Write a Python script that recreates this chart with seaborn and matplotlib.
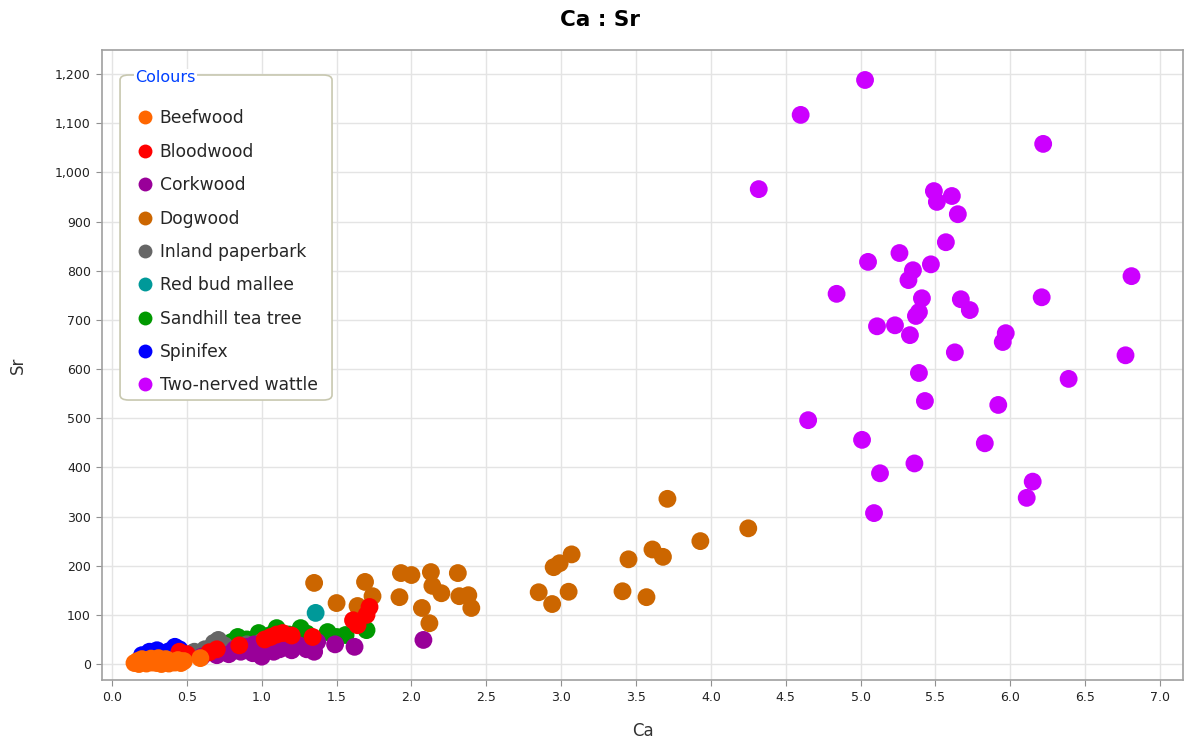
import numpy as np
import pandas as pd
import matplotlib
matplotlib.use("Agg")
import matplotlib.pyplot as plt
from matplotlib.lines import Line2D
from matplotlib.patches import FancyBboxPatch
from matplotlib.ticker import MultipleLocator, StrMethodFormatter
import seaborn as sns

# ---- data: calcium (Ca) vs strontium (Sr) by plant type ----
species = ["Beefwood", "Bloodwood", "Corkwood", "Dogwood", "Inland paperbark",
           "Red bud mallee", "Sandhill tea tree", "Spinifex", "Two-nerved wattle"]

colours = ["#FF6600", "#FF0000", "#990099", "#CC6600", "#666666",
           "#009999", "#009900", "#0000FF", "#CC00FF"]

beefwood_ca = [0.15, 0.17, 0.18, 0.20, 0.22, 0.23, 0.25, 0.27, 0.28, 0.30, 0.32, 0.33,
               0.35, 0.37, 0.38, 0.40, 0.42, 0.44, 0.46, 0.48, 0.59, 0.20, 0.26, 0.31, 0.36]
beefwood_sr = [2, 6, 0, 4, 8, 1, 5, 3, 9, 2, 6, 0, 4, 7, 1, 5, 3, 8, 2, 6, 12, 10, 11, 12, 10]

bloodwood_ca = [0.45, 0.50, 0.65, 0.70, 0.85, 1.02, 1.06, 1.10, 1.14, 1.20, 1.34,
                1.61, 1.64, 1.70, 1.72]
bloodwood_sr = [25, 20, 24, 30, 38, 50, 55, 60, 63, 58, 55, 89, 79, 100, 116]

corkwood_ca = [0.60, 0.70, 0.78, 0.82, 0.86, 0.90, 0.94, 0.98, 1.00, 1.04, 1.08, 1.12,
               1.16, 1.20, 1.25, 1.30, 1.35, 1.37, 1.49, 1.62, 2.08, 0.95, 1.05, 1.15]
corkwood_sr = [15, 18, 20, 30, 25, 35, 22, 28, 15, 32, 25, 30,
               35, 28, 38, 30, 25, 45, 40, 35, 49, 40, 42, 45]

dogwood_ca = [1.35, 1.69, 1.74, 1.50, 1.64, 1.93, 2.00, 2.13, 2.31, 1.92, 2.14, 2.20,
              2.32, 2.38, 2.40, 2.07, 2.12, 2.85, 2.95, 2.99, 3.07, 2.94, 3.05, 3.41,
              3.45, 3.57, 3.61, 3.68, 3.71, 3.93, 4.25]
dogwood_sr = [165, 167, 138, 124, 118, 185, 181, 187, 185, 136, 159, 144,
              138, 140, 114, 114, 83, 146, 197, 205, 223, 122, 147, 148,
              213, 136, 233, 218, 336, 250, 276]

paperbark_ca = [0.55, 0.62, 0.68, 0.71, 0.75, 0.90, 1.00]
paperbark_sr = [25, 30, 43, 49, 38, 40, 45]

redbud_ca = [1.36]
redbud_sr = [104]

teatree_ca = [0.80, 0.84, 0.90, 0.98, 1.05, 1.10, 1.18, 1.26, 1.30, 1.44, 1.50, 1.56, 1.70]
teatree_sr = [45, 55, 50, 63, 58, 73, 60, 73, 62, 65, 55, 59, 69]

spinifex_ca = [0.20, 0.25, 0.30, 0.35, 0.42, 0.45, 0.28, 0.38]
spinifex_sr = [18, 25, 28, 22, 35, 30, 20, 26]

wattle_ca = [5.03, 4.60, 6.22, 4.32, 5.49, 5.51, 5.61, 5.65, 5.57, 5.26, 5.05, 5.47,
             5.35, 5.32, 6.81, 4.84, 5.41, 5.67, 5.73, 6.21, 5.39, 5.37, 5.11, 5.23,
             5.33, 5.97, 5.95, 5.63, 6.77, 5.39, 6.39, 5.43, 5.92, 4.65, 5.01, 5.83,
             5.36, 5.13, 6.15, 6.11, 5.09]
wattle_sr = [1188, 1117, 1058, 966, 962, 940, 952, 915, 858, 836, 818, 813,
             801, 781, 789, 753, 744, 742, 720, 746, 716, 708, 687, 689,
             669, 673, 655, 634, 628, 592, 580, 535, 527, 496, 456, 449,
             408, 388, 371, 338, 307]

series = {
    "Beefwood": (beefwood_ca, beefwood_sr),
    "Bloodwood": (bloodwood_ca, bloodwood_sr),
    "Corkwood": (corkwood_ca, corkwood_sr),
    "Dogwood": (dogwood_ca, dogwood_sr),
    "Inland paperbark": (paperbark_ca, paperbark_sr),
    "Red bud mallee": (redbud_ca, redbud_sr),
    "Sandhill tea tree": (teatree_ca, teatree_sr),
    "Spinifex": (spinifex_ca, spinifex_sr),
    "Two-nerved wattle": (wattle_ca, wattle_sr),
}

# first series drawn last so it sits on top
frames = [pd.DataFrame({"Ca": series[s][0], "Sr": series[s][1], "Species": s})
          for s in reversed(species)]
df = pd.concat(frames, ignore_index=True)
palette = dict(zip(species, colours))

sns.set_style("white")
plt.rcParams["font.family"] = ["DejaVu Sans"]

fig, ax = plt.subplots(figsize=(11.92, 7.42), dpi=100)
fig.subplots_adjust(left=102 / 1192, right=1183 / 1192, bottom=1 - 680 / 742, top=1 - 50 / 742)

sns.scatterplot(data=df, x="Ca", y="Sr", hue="Species", hue_order=species,
                palette=palette, s=165, linewidth=0, alpha=1.0, legend=False, ax=ax,
                zorder=3)

ax.set_xlim(-0.067, 7.154)
ax.set_ylim(-32.5, 1249)
ax.xaxis.set_major_locator(MultipleLocator(0.5))
ax.yaxis.set_major_locator(MultipleLocator(100))
ax.xaxis.set_major_formatter(StrMethodFormatter("{x:.1f}"))
ax.yaxis.set_major_formatter(StrMethodFormatter("{x:,.0f}"))

ax.grid(True, color="#e4e4e4", linewidth=1.0, zorder=0)
ax.set_axisbelow(True)
for sp in ax.spines.values():
    sp.set_color("#a0a0a0")
    sp.set_linewidth(1.2)
ax.tick_params(axis="both", which="major", length=4, width=0.8, color="#909090",
               labelsize=9, labelcolor="#222222", pad=4, bottom=True, left=True)

ax.set_xlabel("Ca", fontsize=12, color="#333333", labelpad=13)
ax.set_ylabel("Sr", fontsize=12, color="#333333", labelpad=20)
fig.suptitle("Ca : Sr", x=0.503, y=1 - 10 / 742, va="top",
             fontsize=15.5, fontweight="bold", color="black")

# legend box with the "Colours" caption set into its border
box = FancyBboxPatch((0.0167, 0.4444), 0.2128 - 0.0167, 0.9603 - 0.4444,
                     boxstyle="round,pad=0,rounding_size=0.008",
                     transform=ax.transAxes, facecolor="white",
                     edgecolor="#c8c8b0", linewidth=1.2, zorder=5)
ax.add_patch(box)

handles = [Line2D([0], [0], marker="o", linestyle="none", markersize=10,
                  markerfacecolor=c, markeredgewidth=0) for c in colours]
leg = ax.legend(handles, species, loc="upper left", bbox_to_anchor=(0.0315, 0.9056),
                frameon=False, fontsize=12.3, labelspacing=0.9,
                handletextpad=0.28, handlelength=1.1, borderpad=0.0,
                borderaxespad=0.0)
leg.set_zorder(6)

ax.text(0.0305, 0.9556, "Colours", transform=ax.transAxes, fontsize=11.5,
        color="#0040ff", ha="left", va="center", zorder=7,
        bbox=dict(facecolor="white", edgecolor="none", pad=1.0))

fig.savefig("out.png", dpi=100)
